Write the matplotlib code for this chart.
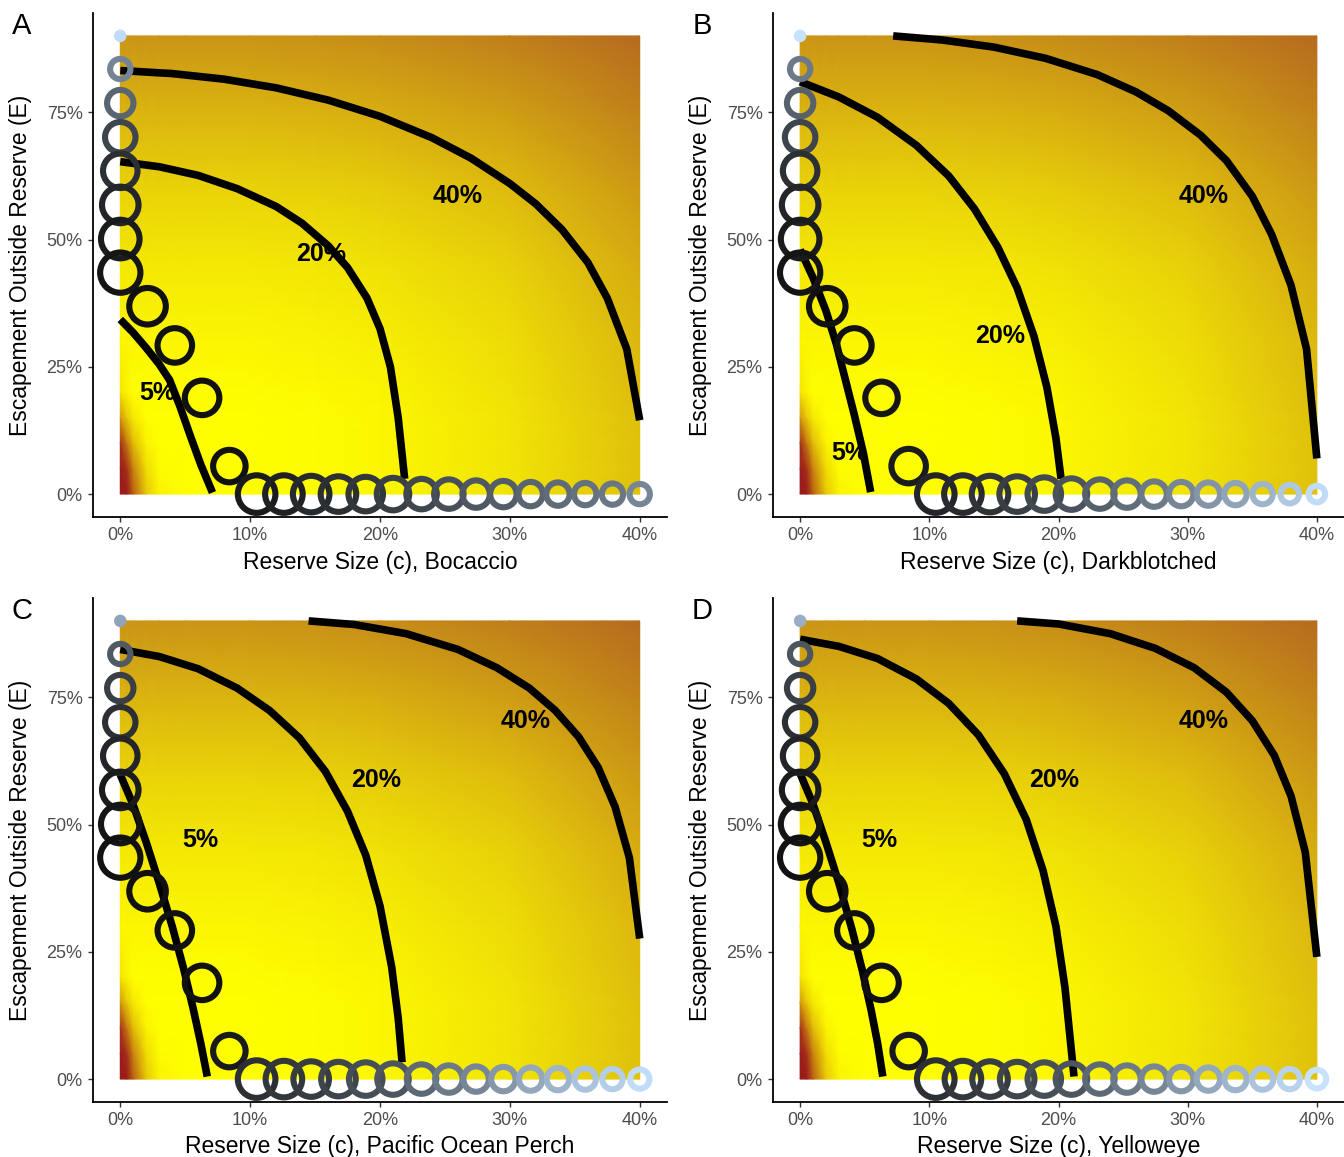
import numpy as np
import matplotlib
matplotlib.use("Agg")
import matplotlib.pyplot as plt
from matplotlib.colors import LinearSegmentedColormap, Normalize

plt.rcParams['font.family'] = ['Liberation Sans', 'DejaVu Sans']

# ---------------- data ----------------
species = ["Bocaccio", "Darkblotched", "Pacific Ocean Perch", "Yelloweye"]
panel_letters = ["A", "B", "C", "D"]

# heatmap field (same for all panels): grid of reserve size c (%) and escapement E (%)
heat_c = [0, 0.5, 1, 2, 3, 5, 10, 15, 20, 30, 40]
heat_E = [0, 5, 10, 15, 20, 30, 45, 60, 75, 90]
heat_val = [
    [-1.00, -1.00, -0.70, -0.25, -0.05, 0.00, 0.00, 0.02, 0.05, 0.18, 0.42],
    [-1.00, -0.90, -0.55, -0.15, -0.02, 0.00, 0.00, 0.02, 0.05, 0.18, 0.42],
    [-0.90, -0.60, -0.30, -0.05, 0.00, 0.00, 0.00, 0.02, 0.05, 0.18, 0.42],
    [-0.45, -0.25, -0.10, 0.00, 0.00, 0.00, 0.00, 0.02, 0.05, 0.18, 0.43],
    [-0.12, -0.05, 0.00, 0.02, 0.02, 0.02, 0.02, 0.04, 0.07, 0.20, 0.45],
    [0.06, 0.06, 0.06, 0.06, 0.06, 0.06, 0.06, 0.08, 0.11, 0.24, 0.48],
    [0.15, 0.15, 0.15, 0.15, 0.15, 0.15, 0.15, 0.17, 0.20, 0.32, 0.56],
    [0.30, 0.30, 0.30, 0.30, 0.30, 0.30, 0.30, 0.32, 0.35, 0.46, 0.68],
    [0.50, 0.50, 0.50, 0.50, 0.50, 0.50, 0.50, 0.52, 0.55, 0.65, 0.84],
    [0.72, 0.72, 0.72, 0.72, 0.72, 0.72, 0.72, 0.74, 0.77, 0.86, 1.00],
]

# optimal path points (same positions in all panels)
path_c = [0, 0, 0, 0, 0, 0, 0, 0, 2.1, 4.2, 6.3, 8.4,
          10.5, 12.6, 14.7, 16.8, 18.9, 21.0, 23.2, 25.3, 27.4, 29.5, 31.6, 33.7, 35.8, 37.9, 40.0]
path_E = [90, 83.5, 76.8, 70.1, 63.5, 56.8, 50.1, 43.5, 36.9, 29.2, 18.9, 5.5,
          0, 0, 0, 0, 0, 0, 0, 0, 0, 0, 0, 0, 0, 0, 0]

# size variable (0..1) and colour variable (0 = black, 1 = light blue) per panel
path_size = {
    "A": [0, 0.41, 0.59, 0.71, 0.83, 0.89, 0.95, 1.0, 0.89, 0.83, 0.83, 0.77,
          0.92, 0.92, 0.89, 0.86, 0.83, 0.77, 0.71, 0.68, 0.62, 0.59, 0.53, 0.50, 0.47, 0.44, 0.41],
    "B": [0, 0.41, 0.59, 0.71, 0.83, 0.89, 0.95, 1.0, 0.89, 0.83, 0.77, 0.83,
          0.92, 0.92, 0.89, 0.86, 0.80, 0.74, 0.68, 0.62, 0.56, 0.53, 0.50, 0.47, 0.41, 0.36, 0.30],
    "C": [0, 0.41, 0.59, 0.71, 0.83, 0.89, 0.95, 1.0, 0.89, 0.83, 0.83, 0.77,
          0.92, 0.89, 0.86, 0.83, 0.80, 0.74, 0.68, 0.62, 0.56, 0.53, 0.50, 0.47, 0.44, 0.41, 0.38],
    "D": [0, 0.41, 0.59, 0.71, 0.83, 0.89, 0.95, 1.0, 0.89, 0.83, 0.83, 0.77,
          0.92, 0.89, 0.86, 0.83, 0.80, 0.74, 0.68, 0.62, 0.56, 0.53, 0.50, 0.47, 0.44, 0.41, 0.36],
}
path_colour = {
    "A": [0.97, 0.55, 0.40, 0.25, 0.15, 0.10, 0.05, 0.02, 0, 0, 0, 0,
          0.05, 0.08, 0.12, 0.15, 0.18, 0.22, 0.26, 0.30, 0.34, 0.37, 0.40, 0.43, 0.46, 0.49, 0.56],
    "B": [1.0, 0.50, 0.38, 0.25, 0.15, 0.10, 0.05, 0.02, 0, 0, 0.02, 0.05,
          0.10, 0.13, 0.17, 0.22, 0.27, 0.32, 0.38, 0.44, 0.50, 0.56, 0.63, 0.70, 0.78, 0.87, 0.97],
    "C": [0.70, 0.35, 0.22, 0.15, 0.10, 0.05, 0.02, 0, 0, 0, 0, 0.05,
          0.15, 0.18, 0.21, 0.25, 0.29, 0.33, 0.42, 0.50, 0.56, 0.64, 0.72, 0.78, 0.85, 0.90, 0.97],
    "D": [0.75, 0.33, 0.22, 0.15, 0.10, 0.05, 0.02, 0, 0, 0, 0, 0.05,
          0.15, 0.18, 0.21, 0.25, 0.29, 0.33, 0.42, 0.50, 0.56, 0.64, 0.72, 0.78, 0.85, 0.92, 1.0],
}

# contour lines: (c %, E %)
contours = {
    "A": {
        "40%": ([0, 4, 8, 12, 16, 20, 24, 27, 30, 32, 34, 36, 37.5, 39, 40],
                [83.2, 82.6, 81.5, 79.8, 77.4, 74.2, 70, 66, 61, 57, 52, 45.5, 38.5, 28.5, 14.5]),
        "20%": ([0, 3, 6, 9, 12, 14, 16, 17.5, 19, 20, 20.8, 21.4, 21.9],
                [65.3, 64.3, 62.6, 60, 56.5, 53.2, 48.8, 44.5, 38.5, 32.5, 25, 15, 3]),
        "5%": ([0, 1, 2, 3, 3.8, 4.6, 5.4, 6.2, 7.1],
               [34.3, 31.7, 28.7, 25.5, 22.4, 17.2, 11.4, 5.8, 0.3]),
    },
    "B": {
        "40%": ([7.2, 11, 15, 19, 23, 26, 28.5, 31, 33, 35, 36.5, 38, 39.2, 40],
                [90, 89.2, 87.8, 85.6, 82.4, 79, 75.3, 70.5, 65.5, 58.5, 51, 41, 28.5, 7]),
        "20%": ([0, 3, 6, 9, 11.5, 13.5, 15.3, 16.8, 18.1, 19.1, 19.8, 20.2],
                [81, 78, 74, 68.5, 62.5, 56, 48.5, 40.5, 31, 21, 11, 3]),
        "5%": ([0, 1, 2, 2.8, 3.5, 4.2, 4.9, 5.46],
               [48, 42.5, 36, 29.5, 22.5, 15.5, 8, 0.4]),
    },
    "C": {
        "40%": ([14.5, 18, 22, 26, 29, 31.5, 33.5, 35.3, 36.8, 38.1, 39.2, 40],
                [90, 89.3, 87.5, 84.4, 80.8, 76.8, 72.4, 67.2, 61.2, 53.5, 43.5, 27.6]),
        "20%": ([0, 3, 6, 9, 11.5, 13.8, 15.8, 17.5, 18.9, 20, 20.9, 21.4, 21.7],
                [84.4, 83, 80.6, 76.8, 72.4, 67, 60.4, 52.6, 44, 34, 22, 12, 3.3]),
        "5%": ([0, 1, 2, 3, 4, 4.9, 5.6, 6.2, 6.7],
               [59.8, 53.8, 46.5, 38.5, 30, 21.5, 14, 7, 0.5]),
    },
    "D": {
        "40%": ([16.8, 20, 24, 27.5, 30.5, 33, 35, 36.7, 38, 39.1, 40],
                [90, 89.4, 87.5, 84.6, 80.8, 76, 70.4, 63.6, 55.6, 44.6, 24]),
        "20%": ([0, 3, 6, 9, 11.5, 13.8, 15.8, 17.5, 18.8, 19.8, 20.5, 21.2],
                [86.4, 85, 82.6, 78.6, 73.8, 67.6, 60, 51, 41, 30, 18, 0.5]),
        "5%": ([0, 1, 2, 3, 4, 4.8, 5.5, 6, 6.4],
               [60, 54, 46.5, 38.5, 29.5, 21.5, 13.5, 7, 0.5]),
    },
}

# contour label positions (c %, E %)
contour_labels = {
    "A": {"40%": (26, 58.6), "20%": (15.5, 47.1), "5%": (2.85, 19.9)},
    "B": {"40%": (31.2, 58.6), "20%": (15.5, 31.0), "5%": (3.8, 8.1)},
    "C": {"40%": (31.2, 70.3), "20%": (19.7, 58.7), "5%": (6.2, 47.0)},
    "D": {"40%": (31.2, 70.3), "20%": (19.7, 58.7), "5%": (6.1, 47.0)},
}

x_ticks = [0, 10, 20, 30, 40]
y_ticks = [0, 25, 50, 75]

# ---------------- drawing ----------------
W, H = 1344, 1157
fig = plt.figure(figsize=(W / 100, H / 100), dpi=100)

heat_cmap = LinearSegmentedColormap.from_list(
    "heat", [(0.0, "#9b1b1b"), (0.5, "#ffff00"), (1.0, "#b66b1f")])
heat_norm = Normalize(vmin=-1, vmax=1)
pt_cmap = LinearSegmentedColormap.from_list("pts", ["#111111", "#c6e2ff"])

# axes boxes in pixels: left, top, right, bottom
boxes = {
    "A": (93, 13, 667, 517),
    "B": (773, 13, 1344, 517),
    "C": (93, 598, 667, 1102),
    "D": (773, 598, 1344, 1102),
}

HC, HE = np.meshgrid(heat_c, heat_E)
HV = np.array(heat_val)

for i, key in enumerate(panel_letters):
    l, t, r, b = boxes[key]
    ax = fig.add_axes([l / W, 1 - b / H, (r - l) / W, (b - t) / H])
    ax.pcolormesh(HC, HE, HV, shading="gouraud", cmap=heat_cmap, norm=heat_norm,
                  zorder=0, rasterized=True)

    for lab, (cc, ee) in contours[key].items():
        ax.plot(cc, ee, color="black", lw=5.5, solid_capstyle="butt",
                solid_joinstyle="round", zorder=2)
        lx, ly = contour_labels[key][lab]
        ax.text(lx, ly, lab, fontsize=18, fontweight="bold", ha="center",
                va="center", zorder=4)

    sizes = (4.6 + 24.4 * np.array(path_size[key])) ** 2
    cols = pt_cmap(np.array(path_colour[key]))
    ax.scatter(path_c, path_E, s=sizes, facecolors="none", edgecolors=cols,
               linewidths=4.4, zorder=3, clip_on=False)

    ax.set_xlim(-2.1, 42.1)
    ax.set_ylim(-4.5, 94.5)
    ax.set_xticks(x_ticks)
    ax.set_xticklabels([f"{v}%" for v in x_ticks])
    ax.set_yticks(y_ticks)
    ax.set_yticklabels([f"{v}%" for v in y_ticks])
    for side in ["top", "right"]:
        ax.spines[side].set_visible(False)
    for side in ["left", "bottom"]:
        ax.spines[side].set_linewidth(1.3)
        ax.spines[side].set_color("black")
    ax.tick_params(axis="both", length=3.5, width=1.0, color="#333333",
                   labelsize=13, labelcolor="#4d4d4d", pad=4)
    ax.tick_params(axis="y", pad=4)
    ax.set_facecolor("white")

    cx = (l + r) / 2
    cy = (t + b) / 2
    fig.text(cx / W, 1 - (b + 45) / H, f"Reserve Size (c), {species[i]}",
             fontsize=16.5, ha="center", va="center")
    fig.text((l - 72) / W, 1 - cy / H, "Escapement Outside Reserve (E)",
             fontsize=16.5, rotation=90, ha="center", va="center")
    fig.text((l - 71) / W, 1 - (t + 13) / H, key, fontsize=21,
             ha="center", va="center")

fig.savefig("out.png", dpi=100)
